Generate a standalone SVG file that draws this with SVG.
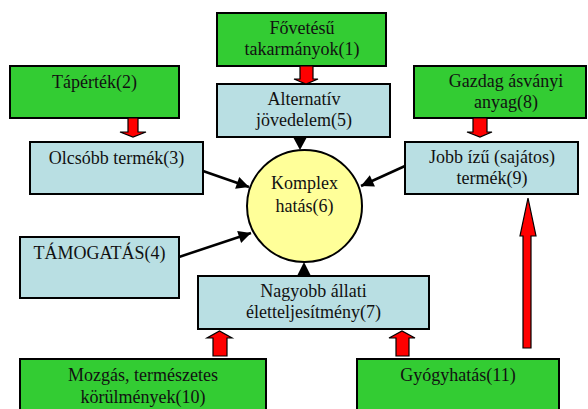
<svg xmlns="http://www.w3.org/2000/svg" width="588" height="409" viewBox="0 0 588 409">
<defs>
<style>
.g{fill:#33cc33;stroke:#000;stroke-width:2}
.b{fill:#b9dfe3;stroke:#000;stroke-width:2}
.y{fill:#ffff99;stroke:#000;stroke-width:2}
.t{font-family:"Liberation Serif","Times New Roman",serif;font-size:18px;fill:#111;text-anchor:middle}
.ln{stroke:#000;stroke-width:2.5;fill:none}
.ra{fill:#ff0000;stroke:#000;stroke-width:1.2}
</style>
<marker id="ah" viewBox="0 0 10 10" refX="10" refY="5" markerWidth="5.5" markerHeight="5" orient="auto" markerUnits="strokeWidth">
<path d="M0,0 L10,5 L0,10 z" fill="#000"/>
</marker>
</defs>
<rect width="588" height="409" fill="#fff"/>

<g id="n1"><rect class="g" x="217" y="13" width="169" height="53"/><text class="t" x="302" y="34">Fővetésű</text><text class="t" x="302" y="55">takarmányok(1)</text></g>
<g id="n2"><rect class="g" x="10" y="66" width="169" height="52"/><text class="t" x="94.5" y="88">Tápérték(2)</text></g>
<g id="n3"><rect class="b" x="30" y="142" width="173" height="52"/><text class="t" x="116.5" y="164">Olcsóbb termék(3)</text></g>
<g id="n4"><rect class="b" x="20" y="237" width="159" height="61"/><text class="t" x="99.5" y="259">TÁMOGATÁS(4)</text></g>
<g id="n5"><rect class="b" x="217" y="84" width="173" height="53"/><text class="t" x="304" y="105">Alternatív</text><text class="t" x="304" y="126">jövedelem(5)</text></g>
<g id="n6"><ellipse class="y" cx="304.5" cy="206" rx="57.5" ry="56"/><text class="t" x="304.5" y="189">Komplex</text><text class="t" x="304.5" y="212">hatás(6)</text></g>
<g id="n7"><rect class="b" x="198" y="276" width="231" height="53"/><text class="t" x="313.5" y="297">Nagyobb állati</text><text class="t" x="313.5" y="318">életteljesítmény(7)</text></g>
<g id="n8"><rect class="g" x="414" y="66" width="172" height="52"/><text class="t" x="506" y="87">Gazdag ásványi</text><text class="t" x="506" y="108">anyag(8)</text></g>
<g id="n9"><rect class="b" x="405" y="142" width="173" height="52"/><text class="t" x="492" y="163">Jobb ízű (sajátos)</text><text class="t" x="492" y="184">termék(9)</text></g>
<g id="n10"><rect class="g" x="20" y="359" width="246" height="60"/><text class="t" x="143" y="381">Mozgás, természetes</text><text class="t" x="143" y="403">körülmények(10)</text></g>
<g id="n11"><rect class="g" x="357" y="359" width="202" height="60"/><text class="t" x="458" y="381">Gyógyhatás(11)</text></g>

<g id="connectors">
<line class="ln" x1="203" y1="171" x2="249" y2="187" marker-end="url(#ah)"/>
<line class="ln" x1="179" y1="257" x2="251" y2="233" marker-end="url(#ah)"/>
<line class="ln" x1="405" y1="166" x2="361" y2="186" marker-end="url(#ah)"/>
<path d="M293,137 L307,137 L300,150 z" fill="#000"/>
<path d="M297,276 L311,276 L304,262 z" fill="#000"/>
<path class="ra" d="M128,118 H138 V132 H146 L133,137 L120,132 H128 z"/>
<path class="ra" d="M300,66 H313 V79 H318 L306,84 L294,79 H300 z"/>
<path class="ra" d="M473,118 H487 V132 H492 L480,137 L467,132 H473 z"/>
<path class="ra" d="M213,356 H227 V338 H232 L219.5,331 L207,338 H213 z"/>
<path class="ra" d="M396,356 H409 V338 H415 L402,331 L389,338 H396 z"/>
<path class="ra" d="M523,348 H531 V236 H536 L528,198 L520,236 H523 z"/>
</g>
</svg>
